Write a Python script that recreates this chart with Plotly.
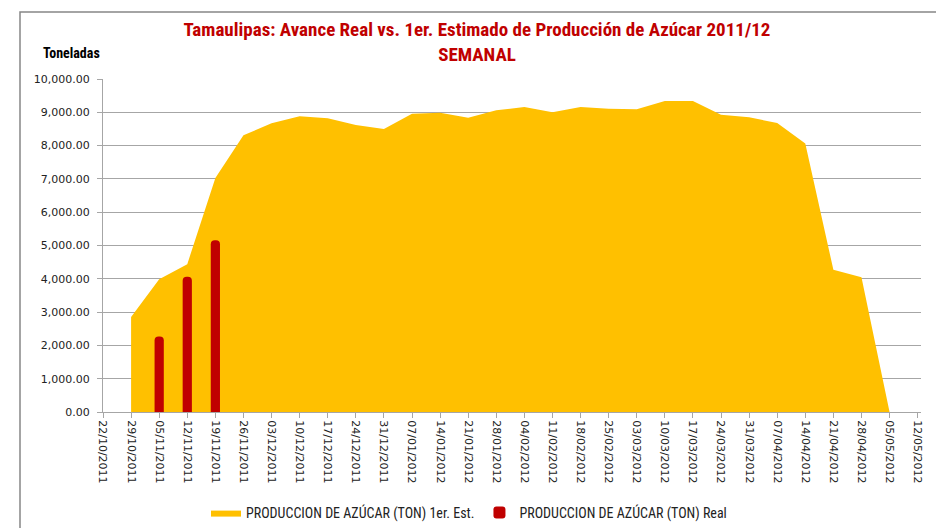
import plotly.graph_objects as go

# semanas de la zafra 2011/12
est_dates = [
    "2011-10-29", "2011-11-05", "2011-11-12", "2011-11-19", "2011-11-26",
    "2011-12-03", "2011-12-10", "2011-12-17", "2011-12-24", "2011-12-31",
    "2012-01-07", "2012-01-14", "2012-01-21", "2012-01-28", "2012-02-04",
    "2012-02-11", "2012-02-18", "2012-02-25", "2012-03-03", "2012-03-10",
    "2012-03-17", "2012-03-24", "2012-03-31", "2012-04-07", "2012-04-14",
    "2012-04-21", "2012-04-28", "2012-05-05",
]
est_values = [
    2850, 3990, 4440, 7030, 8310,
    8670, 8880, 8820, 8620, 8500,
    8960, 8990, 8840, 9060, 9160,
    9000, 9160, 9110, 9090, 9340,
    9340, 8930, 8850, 8680, 8060,
    4270, 4050, 0,
]

real_dates = ["2011-11-05", "2011-11-12", "2011-11-19"]
real_values = [2270, 4060, 5160]

est_name = "PRODUCCION DE AZÚCAR (TON) 1er. Est."
real_name = "PRODUCCION DE AZÚCAR (TON) Real"

title_text = ("Tamaulipas: Avance Real vs. 1er. Estimado de Producción de Azúcar 2011/12"
              "<br>SEMANAL")

NARROW = "Liberation Sans Narrow, Arial Narrow, Roboto Condensed, sans-serif"
TICKFONT = "DejaVu Sans, Verdana, sans-serif"
GRID = "#A6A6A6"
WEEK_MS = 7 * 24 * 3600 * 1000

# the page body adds 8px, so the figure is 8px smaller than the window
W, H = 936, 520
L, R, T, B = 95, 23, 71, 116
PW, PH = W - L - R, H - T - B

fig = go.Figure()
fig.add_trace(go.Scatter(
    x=est_dates, y=est_values, name=est_name,
    mode="lines", line=dict(width=0, color="#FFC000"),
    fill="tozeroy", fillcolor="#FFC000",
))
# bars on an overlaid y axis so they are drawn on top of the area
fig.add_trace(go.Bar(
    x=real_dates, y=real_values, name=real_name, yaxis="y2",
    width=2.3 * 24 * 3600 * 1000,
    marker=dict(color="#C00000", cornerradius="50%", line=dict(width=0)),
))

fig.update_layout(
    width=W, height=H,
    margin=dict(l=L, r=R, t=T, b=B),
    paper_bgcolor="white", plot_bgcolor="white",
    title=dict(
        text=title_text, x=469 / W, xanchor="center", xref="container",
        y=1 - 28 / H, yanchor="top", yref="container",
        font=dict(family=NARROW, size=19, color="#C00000", weight="bold"),
    ),
    showlegend=True,
    legend=dict(
        orientation="h", xref="container", yref="container",
        x=461 / W, xanchor="center", y=1 - 505 / H, yanchor="middle",
        font=dict(family=NARROW, size=14, color="#222222"),
    ),
    font=dict(family=TICKFONT, size=11, color="#222222"),
    xaxis=dict(
        type="date",
        range=["2011-10-22", "2012-05-12 20:00"],
        tick0="2011-10-22", dtick=WEEK_MS, tickformat="%d/%m/%Y", tickangle=90,
        showgrid=False, showline=True, linecolor=GRID, linewidth=1,
        ticks="outside", ticklen=5, tickcolor=GRID,
        tickfont=dict(family=TICKFONT, size=11),
    ),
    yaxis=dict(
        range=[0, 10000], dtick=1000, tickformat=",.2f",
        showgrid=True, gridcolor=GRID, gridwidth=1,
        showline=True, linecolor=GRID, linewidth=1,
        ticks="outside", ticklen=5, tickcolor=GRID, ticklabelstandoff=5,
        tickfont=dict(family=TICKFONT, size=11),
        zeroline=False,
    ),
    yaxis2=dict(overlaying="y", range=[0, 10000], visible=False),
)

fig.add_annotation(
    text="<b>Toneladas</b>", xref="paper", yref="paper",
    x=(33 - L) / PW, y=(H - B - 45) / PH, xanchor="left", yanchor="middle",
    showarrow=False, font=dict(family=NARROW, size=14, color="black"),
)

# marco del gráfico
fig.add_shape(
    type="rect", xref="paper", yref="paper",
    x0=(12 - L) / PW, x1=(929 - L) / PW,
    y0=-0.45, y1=(H - B - 4) / PH,
    line=dict(color="#868686", width=1.5), fillcolor="rgba(0,0,0,0)",
)

fig.write_html("out.html")
